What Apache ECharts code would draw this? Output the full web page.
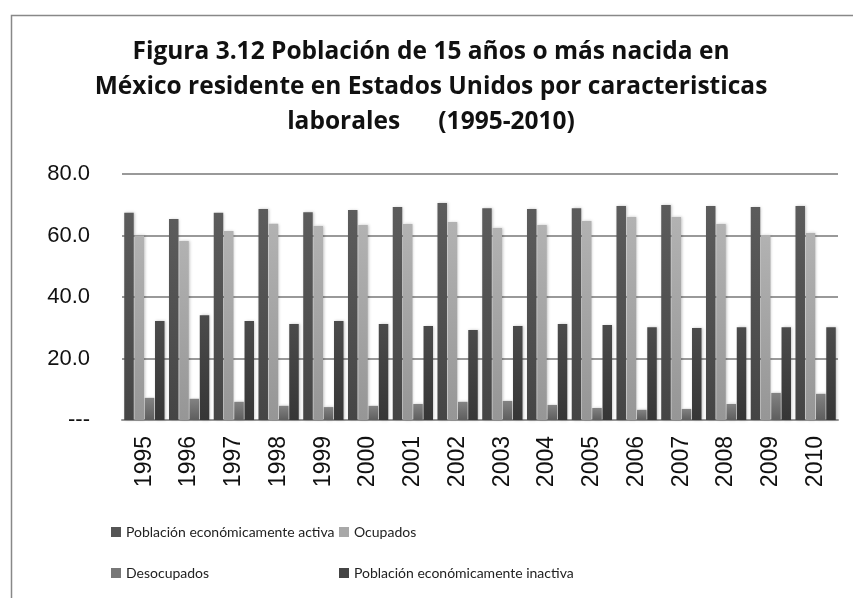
<!DOCTYPE html>
<html>
<head>
<meta charset="utf-8">
<script src="https://cdn.jsdelivr.net/npm/echarts@6/dist/echarts.min.js"></script>
<style>
  html, body { margin: 0; padding: 0; background: #fff; }
  #chart { width: 853px; height: 598px; }
</style>
</head>
<body>
<div id="chart"></div>
<script>
// años
var years = ["1995", "1996", "1997", "1998", "1999", "2000", "2001", "2002",
  "2003", "2004", "2005", "2006", "2007", "2008", "2009", "2010"];

var activa = [67.4, 65.4, 67.4, 68.6, 67.6, 68.3, 69.3, 70.6,
  68.9, 68.6, 68.9, 69.6, 69.9, 69.6, 69.3, 69.6];
var ocupados = [60.0, 58.2, 61.5, 63.8, 63.1, 63.4, 63.7, 64.4,
  62.4, 63.4, 64.7, 66.0, 66.0, 63.7, 60.2, 60.8];
var desocupados = [7.2, 6.9, 5.9, 4.6, 4.2, 4.6, 5.2, 5.9,
  6.2, 4.9, 3.9, 3.3, 3.6, 5.2, 8.8, 8.5];
var inactiva = [32.2, 34.1, 32.2, 31.2, 32.2, 31.2, 30.6, 29.3,
  30.6, 31.2, 30.9, 30.2, 29.9, 30.2, 30.2, 30.2];

var seriesNames = ["Población económicamente activa", "Ocupados",
  "Desocupados", "Población económicamente inactiva"];

var chartDom = document.getElementById("chart");
var myChart = echarts.init(chartDom);

function grad(top, bottom) {
  return {
    type: "linear", x: 0, y: 0, x2: 0, y2: 1,
    colorStops: [{ offset: 0, color: top }, { offset: 1, color: bottom }]
  };
}

var colors = [
  grad("#5c5c5c", "#454545"),
  grad("#b2b2b2", "#969696"),
  grad("#838383", "#5e5e5e"),
  grad("#4b4b4b", "#363636")
];
var flat = ["#555555", "#a8a8a8", "#777777", "#444444"];

function makeSeries(i, data) {
  return {
    name: seriesNames[i],
    type: "bar",
    data: data,
    barGap: "8%",
    barCategoryGap: "10%",
    itemStyle: {
      color: colors[i],
      shadowColor: "rgba(0,0,0,0.25)",
      shadowBlur: 3,
      shadowOffsetX: 1
    }
  };
}

var legendPos = [
  { left: 106, top: 520 },
  { left: 334, top: 520 },
  { left: 106, top: 561 },
  { left: 334, top: 561 }
];

var legends = seriesNames.map(function (n, i) {
  return {
    data: [{ name: n, itemStyle: { color: flat[i] } }],
    left: legendPos[i].left,
    top: legendPos[i].top,
    icon: "rect",
    itemWidth: 10,
    itemHeight: 10,
    itemGap: 4,
    selectedMode: false,
    textStyle: { fontFamily: "Lato", fontSize: 14, color: "#222" }
  };
});

var option = {
  animation: false,
  backgroundColor: "#fff",
  title: {
    text: "Figura 3.12 Población de 15 años o más nacida en\nMéxico residente en Estados Unidos por caracteristicas\nlaborales      (1995-2010)",
    left: 426,
    top: 30,
    textAlign: "center",
    textStyle: {
      fontFamily: "Open Sans",
      fontWeight: "bold",
      fontSize: 24.5,
      lineHeight: 35,
      color: "#111"
    }
  },
  legend: legends,
  grid: { left: 122, right: 15, top: 174, bottom: 178 },
  xAxis: {
    type: "category",
    data: years,
    axisLine: { lineStyle: { color: "#999", width: 2 } },
    axisTick: { show: false },
    axisLabel: {
      rotate: 90,
      margin: 16,
      fontFamily: "Liberation Sans",
      fontSize: 23,
      color: "#111"
    }
  },
  yAxis: {
    type: "value",
    min: 0,
    max: 80,
    interval: 20,
    axisLine: { show: false },
    axisTick: { show: false },
    splitLine: { lineStyle: { color: "#999", width: 2 } },
    axisLabel: {
      margin: 32,
      fontFamily: "Liberation Sans",
      fontSize: 22,
      color: "#111",
      formatter: function (v) { return v === 0 ? "---" : v.toFixed(1); }
    }
  },
  graphic: [{
    type: "rect",
    left: 9,
    top: 13,
    shape: { width: 900, height: 700 },
    style: { fill: null, stroke: "#888", lineWidth: 1.5 },
    silent: true
  }],
  series: [
    makeSeries(0, activa),
    makeSeries(1, ocupados),
    makeSeries(2, desocupados),
    makeSeries(3, inactiva)
  ]
};

option && myChart.setOption(option);
</script>
</body>
</html>
